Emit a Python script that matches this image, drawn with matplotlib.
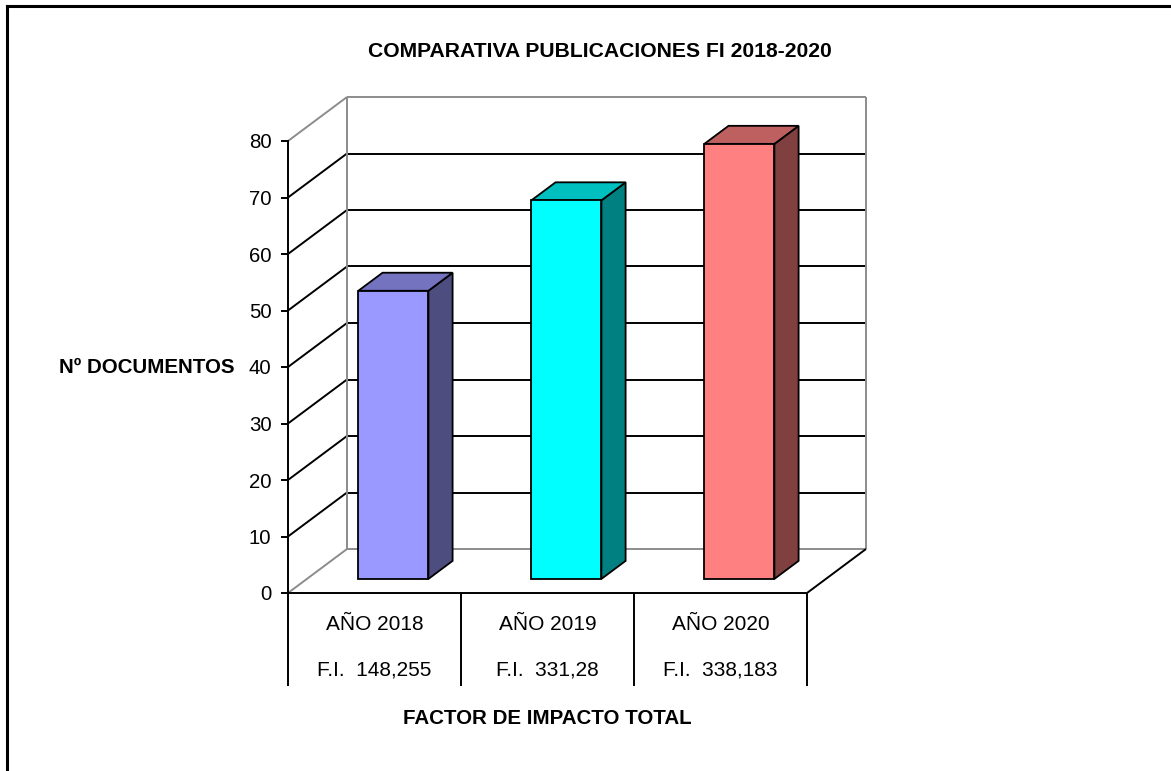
import matplotlib.pyplot as plt
import matplotlib.transforms as mtransforms
from matplotlib.patches import Polygon
from matplotlib.lines import Line2D
import numpy as np

plt.rcParams['font.family'] = ['Liberation Sans', 'DejaVu Sans']

# data
years = ['AÑO 2018', 'AÑO 2019', 'AÑO 2020']
impact = ['F.I.  148,255', 'F.I.  331,28', 'F.I.  338,183']
documents = [51, 67, 77]
front_colors = ['#9999FF', '#00FFFF', '#FF8080']
top_colors = ['#7373BF', '#00BFBF', '#BF6060']
side_colors = ['#4D4D80', '#008080', '#804040']

W, H = 1171, 771
fig = plt.figure(figsize=(W / 100, H / 100), dpi=100)

# front plane of the 3d box, in pixels
x0, x1 = 288, 807
y0, y1 = 593, 141
ax = fig.add_axes([x0 / W, 1 - y0 / H, (x1 - x0) / W, (y0 - y1) / H])
ymax = 80
ax.set_xlim(0, 3)
ax.set_ylim(0, ymax)

# depth offset of the back wall, in data units
DX = 59 / ((x1 - x0) / 3)
DY = 44 / ((y0 - y1) / ymax)

grey = '#8C8C8C'
kw = dict(clip_on=False, solid_capstyle='butt')

# walls and gridlines
for v in range(0, ymax + 1, 10):
    c = grey if v in (0, ymax) else 'black'
    ax.plot([DX, 3 + DX], [v + DY, v + DY], color=c, lw=1.4, zorder=1, **kw)
    ax.plot([0, DX], [v, v + DY], color=c, lw=1.4, zorder=1, **kw)
ax.plot([DX, DX], [DY, ymax + DY], color=grey, lw=1.4, zorder=1, **kw)
ax.plot([3 + DX, 3 + DX], [DY, ymax + DY], color=grey, lw=1.4, zorder=1, **kw)
ax.plot([3, 3 + DX], [0, DY], color='black', lw=1.4, zorder=1, **kw)

# bars as boxes
bw = 0.405
f0, f1 = 0.32, 0.73
for i, v in enumerate(documents):
    xl = i + 0.5 - bw / 2 + f0 * DX
    xr = xl + bw
    yb = f0 * DY
    ddx = (f1 - f0) * DX
    ddy = (f1 - f0) * DY
    front = [(xl, yb), (xr, yb), (xr, v + yb), (xl, v + yb)]
    top = [(xl, v + yb), (xr, v + yb), (xr + ddx, v + yb + ddy), (xl + ddx, v + yb + ddy)]
    side = [(xr, yb), (xr + ddx, yb + ddy), (xr + ddx, v + yb + ddy), (xr, v + yb)]
    for pts, col in [(side, side_colors[i]), (top, top_colors[i]), (front, front_colors[i])]:
        ax.add_patch(Polygon(pts, closed=True, facecolor=col, edgecolor='black',
                             lw=1.3, joinstyle='miter', zorder=3, clip_on=False))

# axes frame
for s in ['top', 'right']:
    ax.spines[s].set_visible(False)
for s in ['left', 'bottom']:
    ax.spines[s].set_linewidth(1.4)
    ax.spines[s].set_zorder(4)
ax.patch.set_alpha(0)

ax.set_yticks(range(0, ymax + 1, 10))
ax.tick_params(axis='y', direction='out', length=5, width=1.4, pad=7, labelsize=14.7)
ax.set_xticks([0, 1, 2, 3])
ax.set_xticklabels([])
ax.tick_params(axis='x', direction='out', length=67, width=1.4)

trans = mtransforms.blended_transform_factory(ax.transData, fig.transFigure)
for i in range(3):
    ax.text(i + 0.5, 1 - 630 / H, years[i], transform=trans, ha='center', va='baseline', fontsize=15)
    ax.text(i + 0.5, 1 - 676 / H, impact[i], transform=trans, ha='center', va='baseline', fontsize=15)

fig.text(600 / W, 1 - 57 / H, 'COMPARATIVA PUBLICACIONES FI 2018-2020', ha='center', va='baseline',
         fontsize=15.2, fontweight='bold')
fig.text(147 / W, 1 - 373 / H, 'Nº DOCUMENTOS', ha='center', va='baseline',
         fontsize=14.8, fontweight='bold')
fig.text(547 / W, 1 - 724 / H, 'FACTOR DE IMPACTO TOTAL', ha='center', va='baseline',
         fontsize=14.8, fontweight='bold')

# outer border (only top and left visible)
fig.add_artist(Line2D([7 / W, 1], [1 - 6 / H, 1 - 6 / H], color='black', lw=2.2, transform=fig.transFigure))
fig.add_artist(Line2D([7 / W, 7 / W], [0, 1 - 6 / H], color='black', lw=2.2, transform=fig.transFigure))

fig.savefig('out.png', dpi=100)
